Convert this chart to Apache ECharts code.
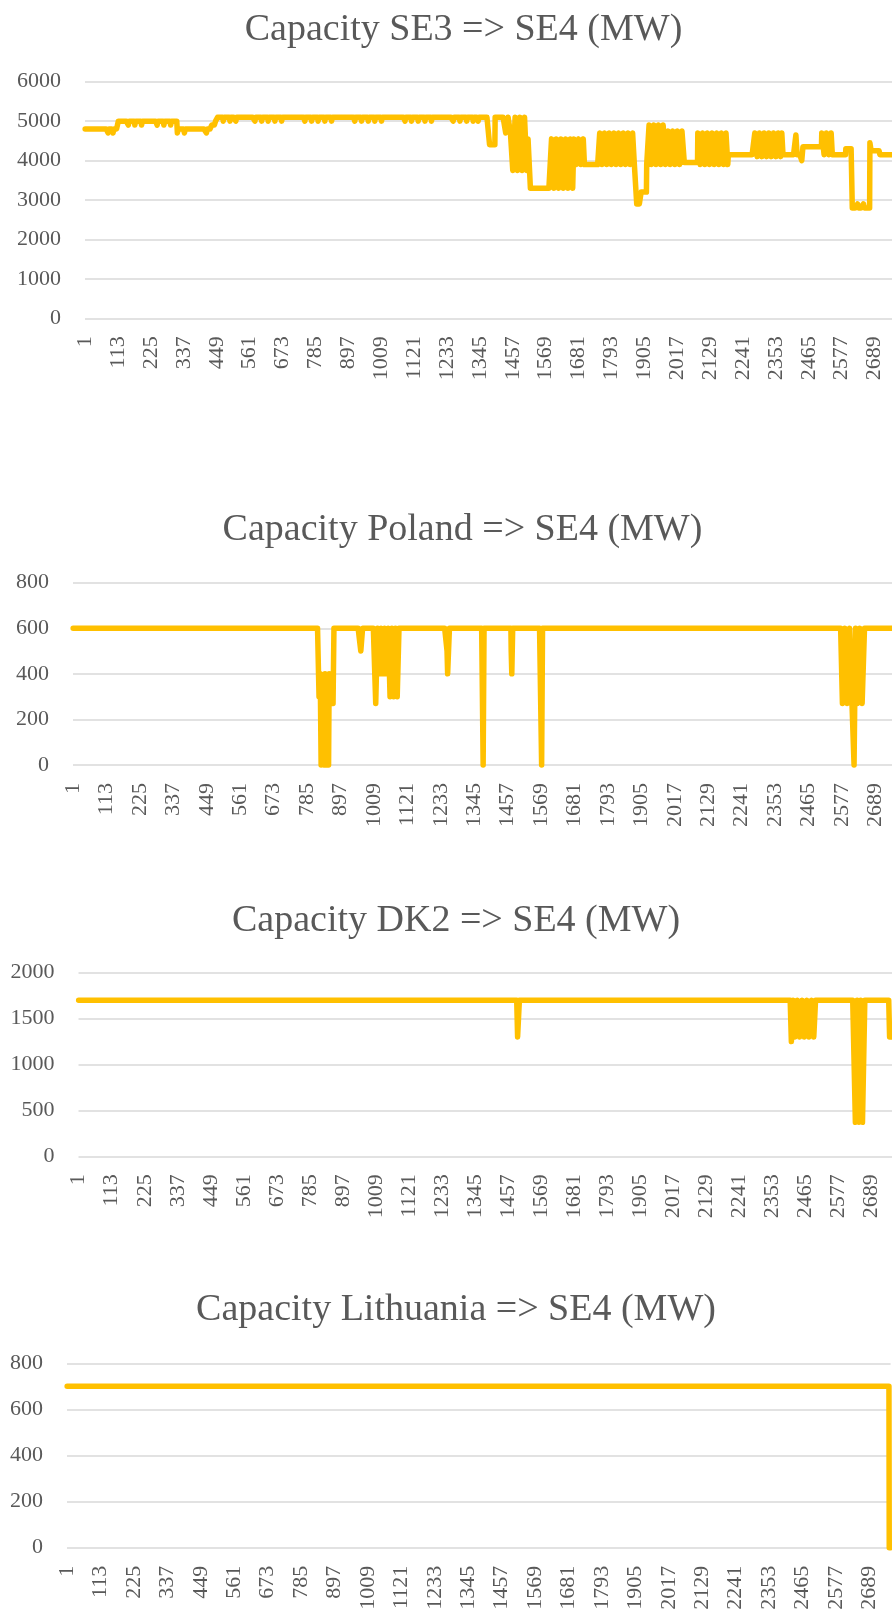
<!DOCTYPE html>
<html>
<head>
<meta charset="utf-8">
<title>Capacity into SE4</title>
<script src="https://cdn.jsdelivr.net/npm/echarts@6/dist/echarts.min.js"></script>
<style>
html,body{margin:0;padding:0;background:#fff;}
#chart{width:892px;height:1615px;}
</style>
</head>
<body>
<div id="chart"></div>
<script>
// hours on the x axis (labels 1..HOURS, every 112th shown)
var HOURS = 2760;

var chartTitles = [
	'Capacity SE3 => SE4 (MW)',
	'Capacity Poland => SE4 (MW)',
	'Capacity DK2 => SE4 (MW)',
	'Capacity Lithuania => SE4 (MW)'
];

// step data: [first hour index, MW], value holds until next entry
var se3Runs = [
	[0,4800],[78,4700],[81,4800],[95,4700],[98,4800],
	[113,5000],[147,4900],[150,5000],[169,4900],[172,5000],[192,4900],[195,5000],
	[245,4900],[248,5000],[268,4900],[271,5000],[291,4900],[294,5000],
	[314,4700],[317,4800],[338,4700],[341,4800],[413,4700],[416,4800],
	[431,4900],[444,5000],[451,5100],
	[470,5000],[473,5100],[493,5000],[496,5100],[513,5000],[516,5100],
	[578,5000],[581,5100],[601,5000],[604,5100],[623,5000],[626,5100],[646,5000],[649,5100],[669,5000],[672,5100],
	[748,5000],[751,5100],[771,5000],[774,5100],[793,5000],[796,5100],[816,5000],[819,5100],[839,5000],[842,5100],
	[918,5000],[921,5100],[941,5000],[944,5100],[964,5000],[967,5100],[986,5000],[989,5100],[1009,5000],[1012,5100],
	[1089,5000],[1092,5100],[1111,5000],[1114,5100],[1134,5000],[1137,5100],[1157,5000],[1160,5100],[1179,5000],[1182,5100],
	[1253,5000],[1256,5100],[1276,5000],[1279,5100],[1299,5000],[1302,5100],[1321,5000],[1324,5100],[1338,5000],[1341,5100],
	[1377,4400],[1396,5100],
	[1432,4700],[1440,5100],[1448,4700],[1456,3750],[1464,5100],[1472,3750],[1480,5100],[1488,3750],[1496,5100],[1504,3750],[1508,4550],
	[1516,3300],
	[1588,4550],[1596,3300],[1604,4550],[1612,3300],[1620,4550],[1628,3300],[1636,4550],[1644,3300],[1652,4550],[1660,3300],
	[1664,4550],[1672,3900],[1680,4550],[1688,3900],[1696,4550],[1700,3900],
	[1752,4700],[1760,3900],[1768,4700],[1776,3900],[1784,4700],[1792,3900],[1800,4700],[1808,3900],
	[1816,4700],[1824,3900],[1832,4700],[1840,3900],[1848,4700],[1856,3900],[1864,4700],[1870,3900],
	[1878,2900],[1893,3200],[1912,3900],
	[1920,4900],[1928,3900],[1936,4900],[1944,3900],[1952,4900],[1960,3900],[1968,4900],[1976,3900],
	[1984,4750],[1992,3900],[2000,4750],[2008,3900],[2016,4750],[2024,3900],[2032,4750],[2040,3950],
	[2086,4700],[2094,3900],[2102,4700],[2110,3900],[2118,4700],[2126,3900],[2134,4700],[2142,3900],
	[2150,4700],[2158,3900],[2166,4700],[2174,3900],[2182,4700],[2188,3900],
	[2190,4150],
	[2280,4700],[2288,4100],[2296,4700],[2304,4100],[2312,4700],[2320,4100],[2328,4700],[2336,4100],
	[2344,4700],[2352,4100],[2360,4700],[2368,4100],[2372,4700],[2376,4150],
	[2420,4650],[2424,4150],[2440,4000],[2444,4350],
	[2508,4700],[2516,4150],[2524,4700],[2532,4150],[2540,4700],[2544,4150],
	[2590,4300],[2612,2800],[2630,2900],[2633,2800],[2650,2900],[2653,2800],
	[2672,4450],[2676,4250],[2706,4150]
];

var polandRuns = [
	[0,600],
	[824,300],[828,400],[831,0],[836,300],[840,0],[844,400],[848,0],[852,300],[856,0],[858,400],[862,270],[874,600],
	[964,500],[970,600],
	[1014,270],[1020,600],[1026,400],[1032,600],[1038,400],[1044,600],[1050,400],[1056,600],
	[1062,300],[1068,600],[1074,300],[1080,600],[1086,300],[1092,600],
	[1253,500],[1255,400],[1261,600],
	[1374,0],[1377,600],
	[1468,500],[1470,400],[1473,600],
	[1570,0],[1573,600],
	[2578,270],[2586,600],[2594,270],[2602,600],[2610,270],[2617,0],[2622,600],[2628,270],[2636,600],[2644,270],[2652,600]
];

var dk2Runs = [
	[0,1700],
	[1488,1300],[1494,1700],
	[2416,1250],[2422,1700],[2428,1300],[2436,1700],[2444,1300],[2452,1700],[2460,1300],[2468,1700],
	[2476,1300],[2484,1700],[2492,1300],[2498,1700],
	[2633,370],[2639,1700],[2645,370],[2651,1700],[2657,370],[2665,1700],
	[2749,1300]
];

var lithuaniaRuns = [[0,700],[2755,0]];

var yMax = [6000, 800, 2000, 800];
var yStep = [1000, 200, 500, 200];

// layout
var grids = [
	{left:85, top:81.7, height:236.6, width:HOURS*0.2937},
	{left:73, top:582.7, height:182.3, width:HOURS*0.2984},
	{left:78.5, top:972.7, height:183.6, width:HOURS*0.295},
	{left:67, top:1363.3, height:184.4, width:HOURS*0.2984}
];
var titlePos = [[458.5,6],[457.5,506],[451,897],[451,1286]];

function expandRuns(runs, n){
	var out = [], k = 0;
	for (var i = 0; i < n; i++) {
		while (k + 1 < runs.length && runs[k+1][0] <= i) k++;
		out.push(runs[k][1]);
	}
	return out;
}

var hourLabels = [];
for (var h = 1; h <= HOURS; h++) hourLabels.push(String(h));

var allRuns = [se3Runs, polandRuns, dk2Runs, lithuaniaRuns];
var FONT = 'Liberation Serif';
var GREY = '#595959';

var option = {
	animation: false,
	backgroundColor: '#ffffff',
	title: [],
	grid: [],
	xAxis: [],
	yAxis: [],
	series: []
};

for (var c = 0; c < 4; c++) {
	option.title.push({
		text: chartTitles[c],
		left: titlePos[c][0],
		top: titlePos[c][1],
		textAlign: 'center',
		textStyle: {fontFamily: FONT, fontSize: 38, fontWeight: 'normal', color: GREY}
	});
	option.grid.push({
		left: grids[c].left, top: grids[c].top, width: grids[c].width, height: grids[c].height,
		containLabel: false,
		outerBoundsMode: 'none'
	});
	option.xAxis.push({
		type: 'category',
		gridIndex: c,
		data: hourLabels,
		boundaryGap: true,
		axisLine: {show: false},
		axisTick: {show: false},
		splitLine: {show: false},
		axisLabel: {
			interval: 111,
			rotate: 90,
			margin: 18,
			padding: [6, 0, 0, 0],
			fontFamily: FONT,
			fontSize: 22,
			color: GREY
		}
	});
	option.yAxis.push({
		type: 'value',
		gridIndex: c,
		min: 0,
		max: yMax[c],
		interval: yStep[c],
		axisLine: {show: false},
		axisTick: {show: false},
		axisLabel: {
			margin: 24, fontFamily: FONT, fontSize: 22, color: GREY,
			formatter: function (v) { return String(v); }
		},
		splitLine: {lineStyle: {color: '#d9d9d9', width: 1.5}}
	});
	option.series.push({
		type: 'line',
		xAxisIndex: c,
		yAxisIndex: c,
		data: expandRuns(allRuns[c], HOURS),
		showSymbol: false,
		symbol: 'none',
		clip: false,
		lineStyle: {color: '#FFC000', width: 5.5, cap: 'round', join: 'round'},
		itemStyle: {color: '#FFC000'}
	});
}

var chart = echarts.init(document.getElementById('chart'), null, {renderer: 'canvas'});
chart.setOption(option);
window.onresize = function(){ chart.resize(); };
</script>
</body>
</html>
